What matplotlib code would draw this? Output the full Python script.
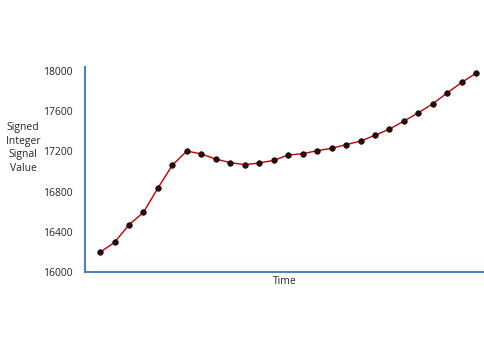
import matplotlib
matplotlib.use("Agg")
import matplotlib.pyplot as plt

# signal samples
t = list(range(27))
values = [16196, 16295, 16470, 16594, 16836, 17065, 17204, 17174, 17124, 17088,
          17068, 17085, 17111, 17164, 17177, 17207, 17231, 17267, 17303, 17360,
          17423, 17502, 17585, 17675, 17784, 17888, 17980]
yticks = [16000, 16400, 16800, 17200, 17600, 18000]

plt.rcParams["font.family"] = ["Open Sans", "DejaVu Sans"]
txt = "#262626"

fig = plt.figure(figsize=(4.85, 3.5), dpi=100)
ax = fig.add_axes([85 / 485, 1 - 272 / 350, 400 / 485, (272 - 67) / 350])

ax.plot(t, values, color="#c00000", lw=1.0, marker="o", ms=4,
        mfc="#2a0a0a", mec="#1a0000", mew=0.5)

ax.set_xlim(-1.04, 26.6)
ax.set_ylim(16000, 18040)
ax.set_yticks(yticks)
ax.set_yticklabels([str(v) for v in yticks], fontsize=7.5, color=txt)
ax.set_xticks([])
ax.tick_params(axis="y", length=0, pad=9)

for s in ("top", "right"):
    ax.spines[s].set_visible(False)
for s in ("left", "bottom"):
    ax.spines[s].set_color("#4f81bd")
    ax.spines[s].set_linewidth(1.5)

ax.set_xlabel("Time", fontsize=7.5, labelpad=3, color=txt)
fig.text(23 / 485, 1 - 148 / 350, "Signed\nInteger\nSignal\nValue", fontsize=7.5,
         ha="center", va="center", linespacing=1.35, color=txt)

fig.savefig("out.png", dpi=100)
